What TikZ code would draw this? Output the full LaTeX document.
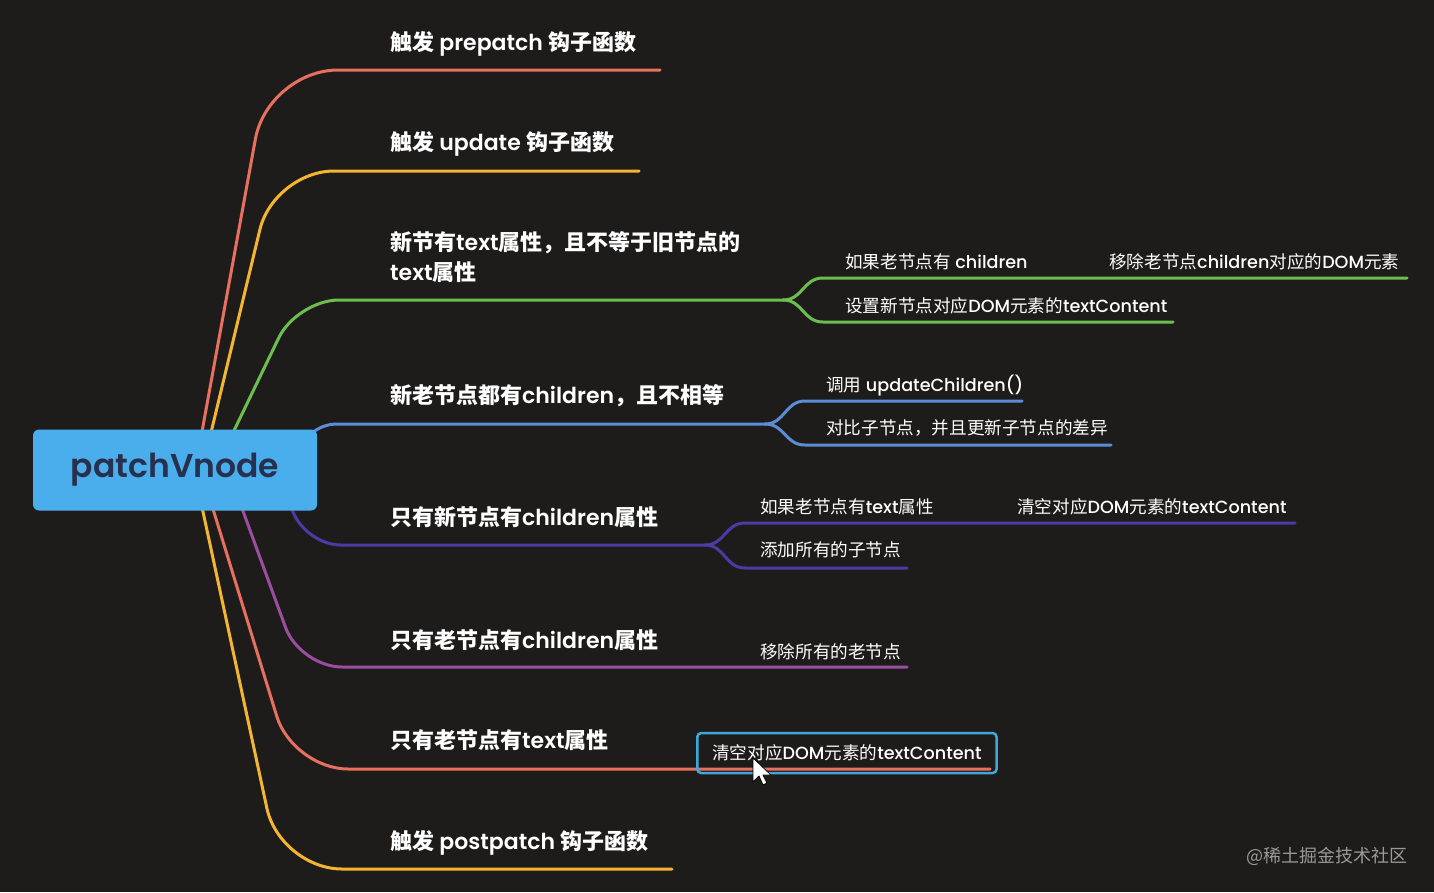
\documentclass[tikz,border=0pt]{standalone}
\usepackage{fontspec}
\IfFontExistsTF{Poppins SemiBold}
	{\setmainfont{Poppins}[BoldFont={Poppins SemiBold}]}
	{\setmainfont{Poppins}}
\IfFontExistsTF{Poppins Medium}
	{\newfontfamily\medfont{Poppins Medium}}
	{\newfontfamily\medfont{Poppins}}
\newfontfamily\zhfont{Noto Sans CJK SC}
\newcommand\zh[1]{{\zhfont#1}}
\usetikzlibrary{calc}

\definecolor{bgcol}{HTML}{1E1C1B}
\definecolor{coral}{HTML}{E8705F}
\definecolor{gold}{HTML}{F4B631}
\definecolor{leaf}{HTML}{6CBF4E}
\definecolor{sky}{HTML}{5B8DD6}
\definecolor{indigo}{HTML}{4C3BA5}
\definecolor{plum}{HTML}{9B4E9F}
\definecolor{rootfill}{HTML}{4BAEEC}
\definecolor{rootink}{HTML}{27304F}
\definecolor{selblue}{HTML}{3FA7DC}

\begin{document}
\begin{tikzpicture}[x=1pt,y=-1pt,
		branch/.style={line width=3pt,line cap=round,rounded corners=#1},
		branch/.default=40,
		twig/.style={line width=3pt,line cap=round},
		main/.style={anchor=base west,inner sep=0pt,text=white,align=left,
			font=\fontsize{22}{30}\selectfont\bfseries},
		sub/.style={anchor=base west,inner sep=0pt,text=white,
			font=\fontsize{17.6}{22}\selectfont\medfont},
		rootbox/.style={fill=rootfill,rounded corners=6pt,minimum width=284pt,
			minimum height=81pt,text=rootink,font=\fontsize{33}{40}\selectfont\bfseries}]
	\fill[bgcol] (0,0) rectangle (1434,892);
	\useasboundingbox (0,0) rectangle (1434,892);

	\coordinate (o) at (175,470);
	% fork points
	\coordinate (fkA) at (783,300);
	\coordinate (fkB) at (765,424);
	\coordinate (fkC) at (705,545);

	% first level branches
	\draw[branch=70,coral] ($(o)+(20,0)$) -- (268,70) -- (660,70);
	\draw[branch=60,gold] ($(o)+(27,0)$) -- (274,171) -- (639,171);
	\draw[branch=42,leaf] ($(o)+(40,0)$) -- (297,300) -- (fkA);
	\draw[branch=26,sky] ($(o)+(115,0)$) -- (310,424) -- (fkB);
	\draw[branch=38,indigo] ($(o)+(105,0)$) -- (303,545) -- (fkC);
	\draw[branch=42,plum] ($(o)+(53,0)$) -- (300,667) -- (907,667);
	\draw[branch=55,coral] ($(o)+(26,0)$) -- (293,769) -- (990,769);
	\draw[branch=62,gold] ($(o)+(19,0)$) -- (280,869) -- (672,869);

	% second level
	\draw[twig,leaf] (fkA) .. controls (803,300) and (803,278) .. (823,278) -- (1407,278);
	\draw[twig,leaf] (fkA) .. controls (803,300) and (803,322) .. (823,322) -- (1173,322);
	\draw[twig,sky] (fkB) .. controls (785,424) and (785,401) .. (805,401) -- (1022,401);
	\draw[twig,sky] (fkB) .. controls (785,424) and (785,445) .. (805,445) -- (1111,445);
	\draw[twig,indigo] (fkC) .. controls (725,545) and (725,523) .. (745,523) -- (1295,523);
	\draw[twig,indigo] (fkC) .. controls (725,545) and (725,568) .. (745,568) -- (907,568);

	\node[rootbox] (root) at (o) {patchVnode};

	% labels
	\node[main] (pre) at (390,50) {\zh{触发} prepatch \zh{钩子函数}};
	\node[main] (upd) at (390,150) {\zh{触发} update \zh{钩子函数}};
	\node[main] (txt) at (390,280) {\zh{新节有}text\zh{属性，且不等于旧节点的}\\text\zh{属性}};
	\node[main] (both) at (390,403) {\zh{新老节点都有}children\zh{，且不相等}};
	\node[main] (onlynew) at (390,525) {\zh{只有新节点有}children\zh{属性}};
	\node[main] (onlyold) at (390,648) {\zh{只有老节点有}children\zh{属性}};
	\node[main] (oldtxt) at (390,748) {\zh{只有老节点有}text\zh{属性}};
	\node[main] (post) at (390,849) {\zh{触发} postpatch \zh{钩子函数}};

	\node[sub] (txt1) at (845,268) {\zh{如果老节点有} children};
	\node[sub] (txt11) at (1109,268) {\zh{移除老节点}children\zh{对应的}DOM\zh{元素}};
	\node[sub] (txt2) at (845,312) {\zh{设置新节点对应}DOM\zh{元素的}textContent};
	\node[sub] (both1) at (826,391) {\zh{调用} updateChildren()};
	\node[sub] (both2) at (826,434) {\zh{对比子节点，并且更新子节点的差异}};
	\node[sub] (new1) at (760,513) {\zh{如果老节点有}text\zh{属性}};
	\node[sub] (new11) at (1017,513) {\zh{清空对应}DOM\zh{元素的}textContent};
	\node[sub] (new2) at (760,556) {\zh{添加所有的子节点}};
	\node[sub] (old1) at (760,658) {\zh{移除所有的老节点}};
	\node[sub,anchor=west,draw=selblue,line width=2.5pt,rounded corners=4pt,
		inner xsep=15pt,minimum height=40pt] (oldtxt1) at (696,753)
		{\zh{清空对应}DOM\zh{元素的}textContent};

	% mouse pointer
	\draw[fill=white,line width=0.8pt,line join=round] (753,758) -- ++(0,24) -- ++(6,-6)
		-- ++(4,9) -- ++(4,-2) -- ++(-4,-8) -- ++(8,0) -- cycle;

	\node[anchor=base east,inner sep=0pt,text=gray!80,font=\fontsize{18}{22}\selectfont]
		(mark) at (1408,862) {\zh{@稀土掘金技术社区}};
\end{tikzpicture}
\end{document}
